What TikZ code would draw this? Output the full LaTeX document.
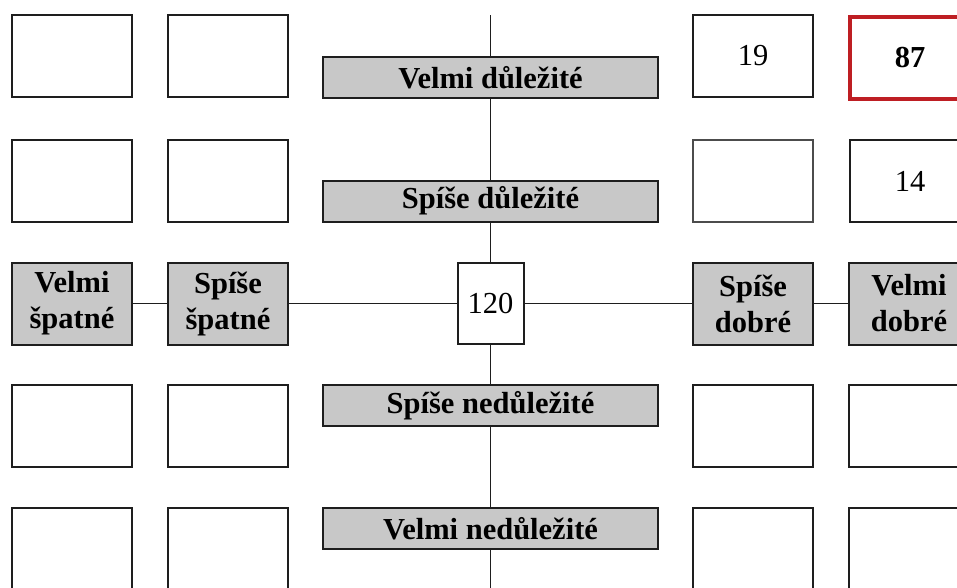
\documentclass[tikz,border=0pt]{standalone}
\usepackage{fontspec}
\setmainfont{Liberation Serif}
\definecolor{boxgray}{RGB}{200,200,200}
\definecolor{linec}{RGB}{30,30,30}
\definecolor{redc}{RGB}{190,30,35}
\begin{document}
\begin{tikzpicture}[x=1pt,y=-1pt,
  cell/.style={draw=linec,line width=2pt,fill=white,minimum width=120pt,minimum height=82pt,inner sep=0pt,font=\fontsize{30.5}{36}\selectfont},
  grcell/.style={cell,fill=boxgray,align=center,font=\fontsize{30.5}{36}\selectfont\bfseries},
  thincell/.style={cell,draw=black!70,line width=1.2pt},
  redcell/.style={cell,draw=redc,line width=3.2pt,font=\fontsize{30.5}{36}\selectfont\bfseries},
  lbl/.style={draw=linec,line width=2pt,fill=boxgray,minimum width=335pt,minimum height=41pt,inner sep=0pt,font=\fontsize{30.5}{36}\selectfont\bfseries},
  midcell/.style={cell,minimum width=66pt,minimum height=81pt},
  conn/.style={draw=linec,line width=1.9pt}
]
\useasboundingbox (0,0) rectangle (957,587);
\clip (0,0) rectangle (957,587);
% row 1
\node[cell] (a11) at (72,56) {};
\node[cell] (a12) at (228,56) {};
\node[cell] (a13) at (753,56) {19};
\node[redcell] (a14) at (910,58) {87};
% row 2
\node[cell] (a21) at (72,181) {};
\node[cell] (a22) at (228,181) {};
\node[thincell] (a23) at (753,181) {};
\node[cell] (a24) at (910,181) {14};
% row 3
\node[grcell] (vs) at (72,303.5) {Velmi\\špatné};
\node[grcell] (ss) at (228,303.5) {Spíše\\špatné};
\node[midcell] (c) at (490.5,303.5) {120};
\node[grcell] (sdo) at (753,303.5) {Spíše\\dobré};
\node[grcell] (vdo) at (909,303.5) {Velmi\\dobré};
% row 4
\node[cell] (a41) at (72,426) {};
\node[cell] (a42) at (228,426) {};
\node[cell] (a43) at (753,426) {};
\node[cell] (a44) at (909,426) {};
% row 5
\node[cell] (a51) at (72,549) {};
\node[cell] (a52) at (228,549) {};
\node[cell] (a53) at (753,549) {};
\node[cell] (a54) at (909,549) {};
% axis labels
\node[lbl] (vd) at (490.5,77.5) {Velmi důležité};
\node[lbl] (sd) at (490.5,201) {Spíše důležité};
\node[lbl] (sn) at (490.5,405.5) {Spíše nedůležité};
\node[lbl] (vn) at (490.5,528.5) {Velmi nedůležité};
\coordinate (topc) at (490.5,15);
\coordinate (botc) at (490.5,595);
% connectors
\draw[conn] (topc) -- (vd);
\draw[conn] (vd) -- (sd);
\draw[conn] (sd) -- (c);
\draw[conn] (c) -- (sn);
\draw[conn] (sn) -- (vn);
\draw[conn] (vn) -- (botc);
\draw[conn] (vs) -- (ss);
\draw[conn] (ss) -- (c);
\draw[conn] (c) -- (sdo);
\draw[conn] (sdo) -- (vdo);
\end{tikzpicture}
\end{document}
